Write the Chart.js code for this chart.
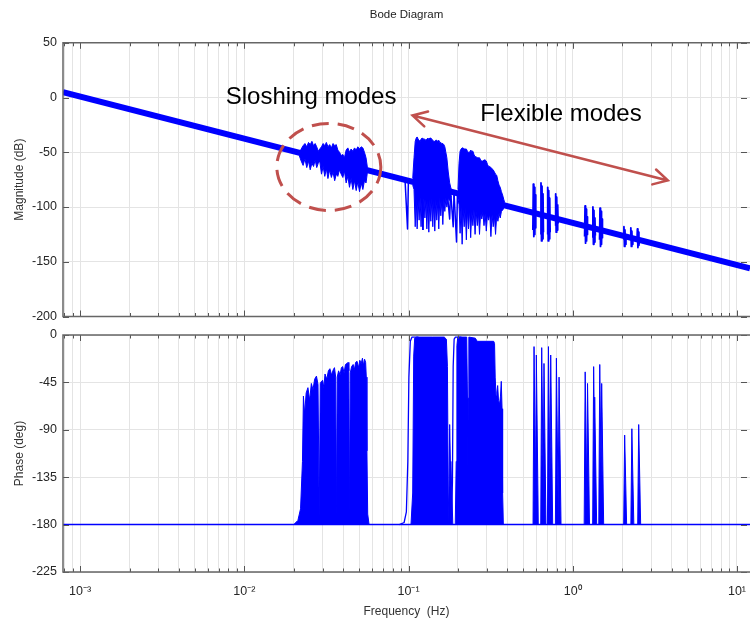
<!DOCTYPE html>
<html>
<head>
<meta charset="utf-8">
<title>Bode Diagram</title>
<script src="https://cdn.jsdelivr.net/npm/chart.js@4.4.1/dist/chart.umd.min.js"></script>
<style>
  html, body { margin: 0; padding: 0; background: #fff; }
  #wrap { position: relative; width: 750px; height: 621px; overflow: hidden; }
  #mag { position: absolute; left: 0; top: 0; }
  #phase { position: absolute; left: 0; top: 321px; }
</style>
</head>
<body>
<div id="wrap">
  <canvas id="mag" width="750" height="330"></canvas>
  <canvas id="phase" width="750" height="300"></canvas>
</div>
<script>
// ---- axis ticks ----
const decades = [1e-3, 1e-2, 1e-1, 1, 10];
const decadeLabels = ["10\u207B\u00B3", "10\u207B\u00B2", "10\u207B\u00B9", "10\u2070", "10\u00B9"];
const minorSteps = [2, 3, 4, 5, 6, 7, 8, 9];

// ---- magnitude (dB) ----
// rigid-body trend, read at both ends of the plot
const magBaseFreq = [7.87e-4, 12];
const magBaseDb = [5, -156];

// sloshing modes: upper / lower envelope of the traces
const sloshFreq = [0.0216, 0.0222, 0.0228, 0.0234, 0.0240, 0.0246, 0.0252, 0.0258, 0.0264, 0.0270, 0.0276, 0.0282, 0.0288, 0.0295, 0.0302, 0.0309, 0.0316, 0.0323, 0.0331, 0.0339, 0.0347, 0.0355, 0.0363, 0.0371, 0.0380, 0.0389, 0.0398, 0.0407, 0.0417, 0.0427, 0.0437, 0.0447, 0.0458, 0.0469, 0.0480, 0.0491, 0.0503, 0.0515, 0.0527, 0.0539, 0.0551, 0.0562];
const sloshHi = [-51, -47, -44, -42, -45, -41, -43, -40, -44, -42, -45, -49, -47, -45, -42, -44, -41, -45, -43, -46, -42, -44, -43, -48, -50, -53, -52, -55, -48, -46, -50, -47, -49, -46, -48, -45, -47, -45, -46, -50, -55, -64];
const sloshLo = [-53, -58, -62, -56, -64, -58, -66, -60, -63, -57, -64, -60, -58, -70, -63, -72, -65, -74, -66, -73, -68, -76, -70, -72, -66, -70, -73, -67, -78, -72, -82, -74, -84, -76, -85, -77, -86, -78, -84, -76, -78, -68];

// first flexible block
const flex1Freq = [0.1060, 0.1080, 0.1098, 0.1114, 0.1128, 0.1144, 0.1160, 0.1176, 0.1192, 0.1208, 0.1224, 0.1241, 0.1258, 0.1275, 0.1293, 0.1311, 0.1329, 0.1348, 0.1367, 0.1386, 0.1405, 0.1425, 0.1445, 0.1465, 0.1486, 0.1507, 0.1528, 0.1550, 0.1572, 0.1594, 0.1617, 0.1640, 0.1663, 0.1687, 0.1711, 0.1745, 0.1780, 0.1820];
const flex1Hi = [-74, -55, -40, -37, -36, -38, -39, -40, -38, -37, -37, -38, -38, -39, -38, -37, -38, -37, -37, -38, -39, -40, -40, -39, -39, -40, -39, -41, -41, -42, -42, -43, -45, -50, -55, -68, -78, -84];
const flex1Lo = [-80, -84, -118, -92, -120, -94, -112, -91, -118, -95, -121, -92, -110, -93, -120, -94, -123, -93, -113, -92, -118, -94, -122, -93, -112, -95, -120, -92, -108, -94, -116, -93, -104, -92, -100, -92, -94, -90];

// second flexible block
const flex2Freq = [0.2000, 0.2030, 0.2060, 0.2090, 0.2120, 0.2150, 0.2182, 0.2215, 0.2249, 0.2283, 0.2318, 0.2354, 0.2390, 0.2427, 0.2465, 0.2503, 0.2542, 0.2582, 0.2622, 0.2663, 0.2705, 0.2748, 0.2792, 0.2836, 0.2881, 0.2927, 0.2975, 0.3023, 0.3072, 0.3122, 0.3173, 0.3225, 0.3278, 0.3332, 0.3387, 0.3443, 0.3500, 0.3558, 0.3617, 0.3677, 0.3738, 0.3800, 0.3850];
const flex2Hi = [-84, -60, -49, -47, -46, -46, -47, -47, -47, -49, -50, -50, -48, -49, -49, -52, -54, -54, -55, -55, -55, -57, -58, -58, -57, -57, -58, -61, -63, -63, -64, -65, -66, -68, -70, -71, -76, -80, -82, -86, -89, -93, -96];
const flex2Lo = [-92, -98, -124, -100, -134, -102, -118, -101, -130, -103, -120, -102, -128, -104, -117, -103, -125, -104, -117, -105, -125, -104, -111, -105, -117, -106, -122, -107, -112, -106, -127, -107, -118, -108, -125, -107, -113, -106, -110, -104, -103, -101, -100];

// anti-resonance notches below the trend
const notchFreq = [0.0986, 0.178, 0.187, 0.196];
const notchDepth = [-120, -111, -118, -132];
const notchBase = [-76, -86, -87, -88];

// isolated higher modes
const spikeFreq = [0.581, 0.647, 0.711, 0.795, 1.20, 1.34, 1.48, 2.07, 2.28, 2.50];
const spikeTop = [-79, -78, -82, -88, -99, -100, -101, -118, -119, -120];
const spikeBottom = [-127, -131, -131, -123, -133, -134, -136, -136, -136, -137];

// ---- phase (deg) ----
const phBaseFreq = [7.87e-4, 12];
const phBaseDeg = [-180, -180];

const phSloshFreq = [0.0200, 0.0212, 0.0220, 0.0226, 0.0229, 0.0233, 0.0238, 0.0244, 0.0250, 0.0256, 0.0262, 0.0268, 0.0275, 0.0281, 0.0286, 0.0290, 0.0295, 0.0300, 0.0305, 0.0310, 0.0318, 0.0325, 0.0332, 0.0340, 0.0348, 0.0354, 0.0360, 0.0364, 0.0368, 0.0375, 0.0383, 0.0390, 0.0397, 0.0405, 0.0413, 0.0422, 0.0428, 0.0433, 0.0437, 0.0442, 0.0450, 0.0460, 0.0468, 0.0476, 0.0486, 0.0496, 0.0505, 0.0515, 0.0524, 0.0532, 0.0540, 0.0548, 0.0553, 0.0558, 0.0564, 0.0575];
const phSloshDeg = [-180, -176, -165, -120, -58, -75, -55, -50, -62, -46, -52, -42, -39, -47, -172, -46, -44, -43, -50, -37, -42, -34, -32, -38, -33, -31, -40, -170, -40, -34, -38, -31, -30, -36, -28, -27, -26, -34, -168, -36, -30, -28, -33, -26, -25, -31, -24, -27, -22, -29, -23, -26, -40, -110, -170, -180];

const phEdge1Freq = [0.088, 0.094, 0.097, 0.0990, 0.1005, 0.1025, 0.105, 0.115];
const phEdge1Deg = [-180, -178, -168, -120, -40, -6, -2, -2];
const phFlex1Freq = [0.1035, 0.1060, 0.1075, 0.1090, 0.112, 0.140, 0.165, 0.170, 0.1725, 0.1745, 0.1765];
const phFlex1Deg = [-180, -150, -20, -3, -2, -2, -2, -4, -30, -150, -180];

const phEdge2Freq = [0.178, 0.1825, 0.1850, 0.1870, 0.1895, 0.193, 0.21];
const phEdge2Deg = [-180, -176, -140, -30, -4, -2, -2];
const phFlex2Freq = [0.1925, 0.1950, 0.1970, 0.1995, 0.226, 0.2285, 0.2295, 0.2305, 0.233, 0.255, 0.262, 0.300, 0.330, 0.334, 0.337, 0.341, 0.345, 0.349, 0.353, 0.358, 0.363, 0.367, 0.371, 0.374, 0.378];
const phFlex2Deg = [-180, -120, -10, -2, -2, -60, -150, -60, -2, -3, -6, -6, -6, -8, -40, -58, -54, -48, -62, -66, -58, -44, -70, -150, -180];

const phSpikeFreq = [0.178, 0.181, 0.581, 0.600, 0.647, 0.668, 0.711, 0.734, 0.795, 0.825, 1.19, 1.23, 1.34, 1.36, 1.46, 1.50, 2.07, 2.29, 2.52];
const phSpikeTop = [-85, -120, -11, -19, -12, -27, -11, -19, -22, -40, -35, -46, -30, -59, -28, -46, -95, -89, -85];

// ---- helpers ----
const BLUE = "#0000ff";
const RED = "#c0504d";
const FONT = "'Liberation Sans', Arial, Helvetica, sans-serif";
const X_MIN = 7.87e-4, X_MAX = 12;

const pts = (fs, vs) => fs.map((f, i) => ({ x: f, y: vs[i] }));
function trace(data, extra) {
  return Object.assign({
    data: data, borderColor: BLUE, backgroundColor: BLUE, borderWidth: 1.2,
    pointRadius: 0, tension: 0, fill: false, borderJoinStyle: "round"
  }, extra || {});
}

function freqTicks(scale) {
  const list = [];
  decades.forEach(d => {
    list.push({ value: d, major: true });
    minorSteps.forEach(m => list.push({ value: d * m, major: false }));
  });
  [8e-4, 9e-4].forEach(v => list.push({ value: v, major: false }));
  scale.ticks = list.filter(t => t.value >= X_MIN && t.value <= X_MAX).sort((a, b) => a.value - b.value);
}

// box with inward tick marks; the right edge of the box is cut off in the picture
const frame = {
  id: "frame",
  afterDraw(chart) {
    const { ctx, chartArea: a, scales: { x, y } } = chart;
    ctx.save();
    ctx.strokeStyle = "#555";
    ctx.lineWidth = 1;
    ctx.beginPath();
    x.ticks.forEach(t => {
      const px = Math.round(x.getPixelForValue(t.value)) + 0.5;
      const len = t.major ? 6 : 3.5;
      ctx.moveTo(px, a.bottom); ctx.lineTo(px, a.bottom - len);
      ctx.moveTo(px, a.top); ctx.lineTo(px, a.top + len);
    });
    y.ticks.forEach(t => {
      const py = Math.round(y.getPixelForValue(t.value)) + 0.5;
      ctx.moveTo(a.left, py); ctx.lineTo(a.left + 6, py);
      ctx.moveTo(a.right - 3, py); ctx.lineTo(a.right - 9, py);
    });
    ctx.stroke();
    ctx.lineWidth = 1.5;
    ctx.strokeStyle = "#666";
    ctx.beginPath();
    ctx.moveTo(a.right, a.top); ctx.lineTo(a.left, a.top);
    ctx.lineTo(a.left, a.bottom); ctx.lineTo(a.right, a.bottom);
    ctx.stroke();
    ctx.restore();
  }
};

// callouts on the magnitude plot, placed in data coordinates
const notes = {
  slosh: { text: "Sloshing modes", f: 0.0255, db: 0 },
  flex: { text: "Flexible modes", f: 0.848, db: -15.5 },
  ring: { f: 0.0327, db: -63.4, rx: 52, ry: 43.5 },
  arrow: { f1: 0.1058, db1: -16.4, f2: 3.79, db2: -75.7 }
};
const callouts = {
  id: "callouts",
  afterDatasetsDraw(chart) {
    const { ctx, scales: { x, y } } = chart;
    ctx.save();
    // dashed ring round the sloshing modes
    ctx.strokeStyle = RED;
    ctx.lineWidth = 3;
    ctx.setLineDash([17, 9]);
    ctx.beginPath();
    ctx.ellipse(x.getPixelForValue(notes.ring.f), y.getPixelForValue(notes.ring.db), notes.ring.rx, notes.ring.ry, 0, 0, Math.PI * 2);
    ctx.stroke();
    ctx.setLineDash([]);
    // double arrow over the flexible modes
    const x1 = x.getPixelForValue(notes.arrow.f1), y1 = y.getPixelForValue(notes.arrow.db1);
    const x2 = x.getPixelForValue(notes.arrow.f2), y2 = y.getPixelForValue(notes.arrow.db2);
    ctx.lineWidth = 2.5;
    ctx.lineCap = "round";
    ctx.beginPath();
    ctx.moveTo(x1, y1); ctx.lineTo(x2, y2);
    const ang = Math.atan2(y2 - y1, x2 - x1), L = 16, spread = 0.5;
    [[x1, y1, ang], [x2, y2, ang + Math.PI]].forEach(([px, py, a]) => {
      ctx.moveTo(px + L * Math.cos(a + spread), py + L * Math.sin(a + spread));
      ctx.lineTo(px, py);
      ctx.lineTo(px + L * Math.cos(a - spread), py + L * Math.sin(a - spread));
    });
    ctx.stroke();
    // labels
    ctx.fillStyle = "#000";
    ctx.font = "24px " + FONT;
    ctx.textAlign = "center";
    ctx.textBaseline = "middle";
    [notes.slosh, notes.flex].forEach(n => ctx.fillText(n.text, x.getPixelForValue(n.f), y.getPixelForValue(n.db)));
    ctx.restore();
  }
};

function axes(yMin, yMax, step, yTitle, showX) {
  return {
    x: {
      type: "logarithmic", min: X_MIN, max: X_MAX,
      afterBuildTicks: freqTicks,
      afterFit: s => { s.height = showX ? 49 : 0; s.paddingLeft = 0; s.paddingRight = 0; },
      grid: { color: "#e4e4e4", lineWidth: 1, drawTicks: false },
      border: { display: false },
      ticks: {
        display: showX, autoSkip: false, maxRotation: 0, minRotation: 0, padding: 12,
        color: "#262626", font: { family: FONT, size: 12.5 },
        callback: v => { const i = decades.indexOf(v); return i >= 0 ? decadeLabels[i] : ""; }
      },
      title: {
        display: showX, text: "Frequency  (Hz)", color: "#333",
        font: { family: FONT, size: 12 }, padding: { top: 0, bottom: 2 }
      }
    },
    y: {
      min: yMin, max: yMax,
      afterFit: s => { s.width = 63; },
      grid: { color: "#e4e4e4", lineWidth: 1, drawTicks: false },
      border: { display: false },
      ticks: { stepSize: step, padding: 6, color: "#262626", font: { family: FONT, size: 12.5 } },
      title: { display: true, text: yTitle, color: "#333", font: { family: FONT, size: 12 }, padding: { top: 12, bottom: 0 } }
    }
  };
}

// ---- magnitude chart ----
const magSets = [trace(pts(magBaseFreq, magBaseDb), { borderWidth: 6, borderCapStyle: "butt" })];
[[sloshFreq, sloshHi, sloshLo], [flex1Freq, flex1Hi, flex1Lo], [flex2Freq, flex2Hi, flex2Lo]].forEach(([f, hi, lo]) => {
  magSets.push(trace(pts(f, hi), { fill: "+1", borderWidth: 1 }));
  magSets.push(trace(pts(f, lo), { borderWidth: 1 }));
});
notchFreq.forEach((f, i) => {
  magSets.push(trace([{ x: f / 1.035, y: notchBase[i] }, { x: f, y: notchDepth[i] }, { x: f * 1.012, y: notchBase[i] - 1 }], { borderWidth: 1.5 }));
});
spikeFreq.forEach((f, i) => {
  const top = spikeTop[i], bot = spikeBottom[i];
  magSets.push(trace([
    { x: f * 0.984, y: bot + 6 }, { x: f * 0.99, y: top }, { x: f * 0.997, y: bot },
    { x: f * 1.004, y: top - 3 }, { x: f * 1.011, y: bot + 2 }, { x: f * 1.018, y: top - 10 }, { x: f * 1.024, y: bot + 8 }
  ], { borderWidth: 1.8 }));
});

new Chart(document.getElementById("mag"), {
  type: "line",
  data: { datasets: magSets },
  plugins: [frame, callouts],
  options: {
    responsive: false, animation: false, events: [],
    layout: { padding: { top: 0, bottom: 13, left: 0, right: 0 } },
    scales: axes(-200, 50, 50, "Magnitude (dB)", false),
    plugins: {
      legend: { display: false }, tooltip: { enabled: false },
      title: {
        display: true, text: "Bode Diagram", fullSize: false, color: "#222",
        font: { family: FONT, size: 11.5, weight: "normal" }, padding: { top: 8, bottom: 21 }
      }
    }
  }
});

// ---- phase chart ----
const phSets = [trace(pts(phBaseFreq, phBaseDeg), { borderWidth: 1.5 })];
[[phSloshFreq, phSloshDeg], [phFlex1Freq, phFlex1Deg], [phFlex2Freq, phFlex2Deg]].forEach(([f, d]) => {
  phSets.push(trace(pts(f, d), { fill: { value: -180 }, borderWidth: 1 }));
});
[[phEdge1Freq, phEdge1Deg], [phEdge2Freq, phEdge2Deg]].forEach(([f, d]) => {
  phSets.push(trace(pts(f, d), { borderWidth: 1.3 }));
});
phSpikeFreq.forEach((f, i) => {
  phSets.push(trace([{ x: f * 0.986, y: -180 }, { x: f, y: phSpikeTop[i] }, { x: f * 1.028, y: -180 }], { fill: { value: -180 }, borderWidth: 1 }));
});

new Chart(document.getElementById("phase"), {
  type: "line",
  data: { datasets: phSets },
  plugins: [frame],
  options: {
    responsive: false, animation: false, events: [],
    layout: { padding: { top: 14, bottom: 0, left: 0, right: 0 } },
    scales: axes(-225, 0, 45, "Phase (deg)", true),
    plugins: { legend: { display: false }, tooltip: { enabled: false } }
  }
});
</script>
</body>
</html>
